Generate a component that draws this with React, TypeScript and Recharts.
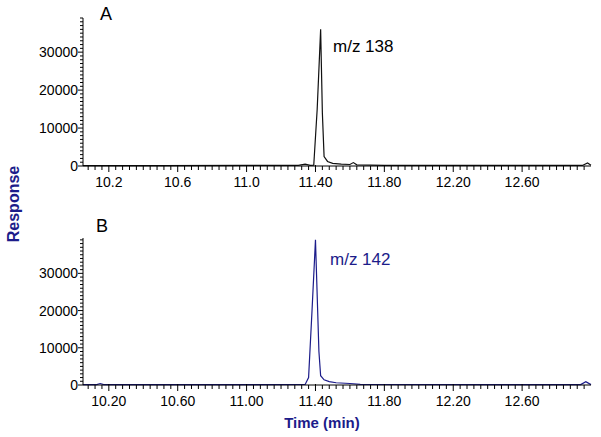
import React from 'react'
import { LineChart, Line, XAxis, YAxis } from 'recharts'

// m/z 138 trace (panel A)
const timeA = [10.05, 10.5, 11.0, 11.3, 11.34, 11.37, 11.39, 11.41, 11.43, 11.44, 11.45, 11.47, 11.5, 11.55, 11.6, 11.62, 11.64, 11.8, 12.5, 12.95, 12.98, 13.0]
const respA = [100, 100, 150, 150, 500, 150, 200, 15000, 36000, 14000, 2500, 1200, 700, 500, 400, 900, 300, 150, 150, 150, 800, 200]

// m/z 142 trace (panel B)
const timeB = [10.05, 10.13, 10.15, 10.17, 11.0, 11.34, 11.36, 11.38, 11.4, 11.42, 11.43, 11.45, 11.48, 11.52, 11.6, 11.66, 12.5, 12.94, 12.97, 13.0]
const respB = [100, 100, 400, 100, 100, 150, 2000, 20000, 39000, 9000, 2500, 1400, 900, 600, 400, 150, 100, 100, 900, 100]

const majorTicks = [10.2, 10.6, 11.0, 11.4, 11.8, 12.2, 12.6]
const labelsA = ['10.2', '10.6', '11.0', '11.40', '11.80', '12.20', '12.60']
const labelsB = ['10.20', '10.60', '11.00', '11.40', '11.80', '12.20', '12.60']
const yLabels = [0, 10000, 20000, 30000]

const navy = '#1c1c8a'
const font = '"Liberation Sans", Arial, sans-serif'

const xTicks: number[] = []
for (let i = 0; i <= 72; i++) xTicks.push(+(10.08 + i * 0.04).toFixed(2))
const yTicks = (max: number) => {
    const out: number[] = []
    for (let v = 0; v <= max; v += 1000) out.push(v)
    return out
}

const dataA = timeA.map((t, i) => ({ t, r: respA[i] }))
const dataB = timeB.map((t, i) => ({ t, r: respB[i] }))

const XTick = (props: any) => {
    const { x, y, payload, labels } = props
    const idx = majorTicks.findIndex((m) => Math.abs(m - payload.value) < 1e-6)
    const major = idx >= 0
    return (
        <g>
            <line x1={x} x2={x} y1={major ? y - 1 : y} y2={y + (major ? 6 : 4)} stroke='#000' />
            {major && (
                <text x={x} y={y + 21} textAnchor='middle' fontSize={14} fontFamily={font} fill='#000'>
                    {labels[idx]}
                </text>
            )}
        </g>
    )
}

const YTick = (props: any) => {
    const { x, y, payload } = props
    const major = yLabels.includes(payload.value)
    return (
        <g>
            <line x1={x} x2={x - (major ? 5 : 3)} y1={y} y2={y} stroke='#000' />
            {major && (
                <text x={x - 5} y={y + 5} textAnchor='end' fontSize={14} fontFamily={font} fill='#000'>
                    {payload.value}
                </text>
            )}
        </g>
    )
}

const Panel = ({ data, labels, color, yMax, top, height, margin }: any) => (
    <div style={{ position: 'absolute', left: 0, top }}>
        <LineChart width={601} height={height} data={data} margin={margin}>
            <XAxis
                dataKey='t'
                type='number'
                domain={[10.05, 13.0]}
                ticks={xTicks}
                interval={0}
                tickSize={0}
                tickMargin={0}
                tickLine={false}
                height={30}
                stroke='#000'
                tick={(p: any) => <XTick {...p} labels={labels} />}
            />
            <YAxis
                type='number'
                domain={[0, yMax]}
                ticks={yTicks(yMax)}
                interval={0}
                tickSize={0}
                tickMargin={0}
                tickLine={false}
                width={60}
                stroke='#000'
                tick={(p: any) => <YTick {...p} />}
            />
            <Line
                dataKey='r'
                type='linear'
                stroke={color}
                strokeWidth={1.2}
                dot={false}
                isAnimationActive={false}
            />
        </LineChart>
    </div>
)

export default function App() {
    return (
        <div style={{ position: 'absolute', left: 0, top: 0, width: 601, height: 437, background: '#fff' }}>
            <Panel
                data={dataA}
                labels={labelsA}
                color='#111'
                yMax={39000}
                top={0}
                height={200}
                margin={{ top: 18, right: 10, left: 23, bottom: 4 }}
            />
            <Panel
                data={dataB}
                labels={labelsB}
                color={navy}
                yMax={39500}
                top={200}
                height={237}
                margin={{ top: 38, right: 10, left: 23, bottom: 22 }}
            />
            <svg width={601} height={437} style={{ position: 'absolute', left: 0, top: 0, pointerEvents: 'none' }}>
                <text x={100} y={20} fontSize={18} fontFamily={font} fill='#000'>A</text>
                <text x={96} y={232} fontSize={18} fontFamily={font} fill='#000'>B</text>
                <text x={333} y={52} fontSize={17} fontFamily={font} fill='#000'>m/z 138</text>
                <text x={330} y={265} fontSize={17} fontFamily={font} fill={navy}>m/z 142</text>
                <text
                    x={19}
                    y={204}
                    transform='rotate(-90 19 204)'
                    textAnchor='middle'
                    fontSize={16}
                    fontWeight='bold'
                    fontFamily={font}
                    fill={navy}
                >
                    Response
                </text>
                <text x={322} y={428} textAnchor='middle' fontSize={15} fontWeight='bold' fontFamily={font} fill={navy}>
                    Time (min)
                </text>
            </svg>
        </div>
    )
}
